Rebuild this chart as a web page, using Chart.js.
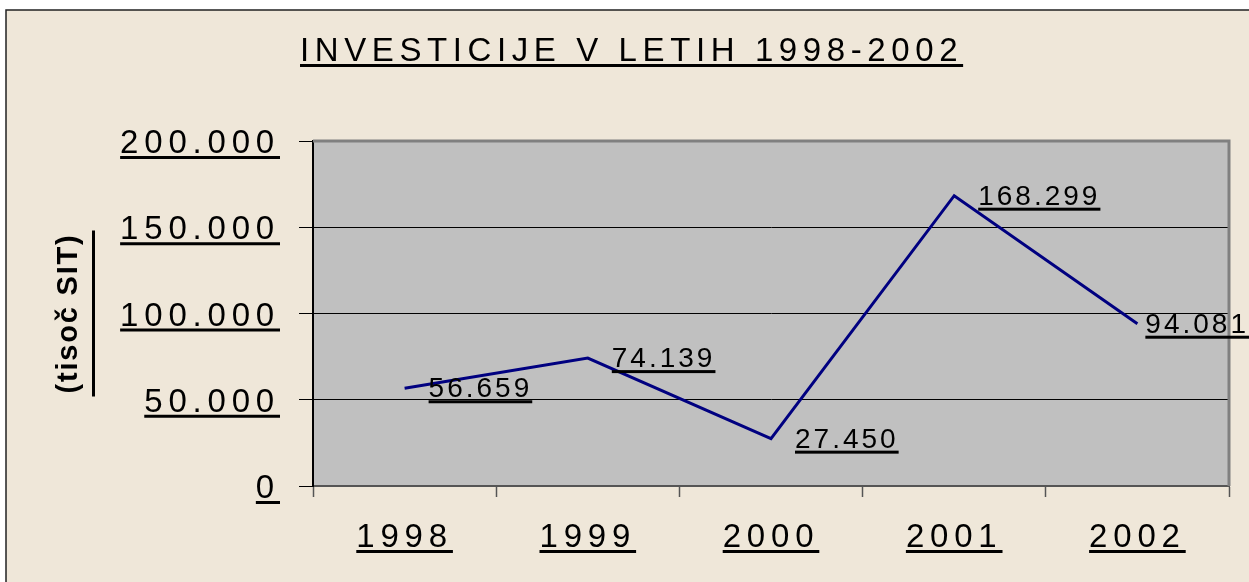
<!DOCTYPE html>
<html>
<head>
<meta charset="utf-8">
<script src="https://cdn.jsdelivr.net/npm/chart.js@4.4.1/dist/chart.umd.min.js"></script>
<style>
  html, body { margin: 0; padding: 0; background: #ffffff; }
  #wrap { width: 1249px; height: 582px; }
</style>
</head>
<body>
<div id="wrap"><canvas id="lineChart" width="1249" height="582"></canvas></div>
<script>
// data
const years = ['1998', '1999', '2000', '2001', '2002'];
const investments = [56659, 74139, 27450, 168299, 94081];
const yTickValues = [0, 50000, 100000, 150000, 200000];
const chartTitle = 'INVESTICIJE V LETIH 1998-2002';
const axisTitle = '(tisoč SIT)';

const FONT = '"Liberation Sans", Arial, sans-serif';
const fmt = v => v.toLocaleString('de-DE');

// draws text with an underline the width of the text (incl. letter spacing)
function underlined(ctx, text, x, y, align, spacing, gap, thick) {
  ctx.letterSpacing = spacing + 'px';
  const w = ctx.measureText(text).width;
  let left = x;
  if (align === 'center') left = x - w / 2;
  if (align === 'right') left = x - w;
  ctx.textAlign = 'left';
  ctx.textBaseline = 'alphabetic';
  ctx.fillText(text, left, y);
  ctx.fillRect(left, y + gap, w, thick);
  return w;
}

const decorPlugin = {
  id: 'decor',
  beforeDraw(chart) {
    const ctx = chart.ctx;
    const a = chart.chartArea;
    ctx.save();
    ctx.fillStyle = '#ffffff';
    ctx.fillRect(0, 0, chart.width, chart.height);
    ctx.fillStyle = '#efe7d9';
    ctx.fillRect(6, 10, chart.width, chart.height);
    ctx.strokeStyle = '#222222';
    ctx.lineWidth = 1.5;
    ctx.beginPath();
    ctx.moveTo(6, chart.height + 5);
    ctx.lineTo(6, 10);
    ctx.lineTo(chart.width + 5, 10);
    ctx.stroke();
    ctx.fillStyle = '#c0c0c0';
    ctx.fillRect(a.left, a.top, a.right - a.left, a.bottom - a.top);
    ctx.restore();
  },
  afterDraw(chart) {
    const ctx = chart.ctx;
    const a = chart.chartArea;
    const xs = chart.scales.x;
    const ys = chart.scales.y;
    ctx.save();

    // plot frame top / right
    ctx.strokeStyle = '#808080';
    ctx.lineWidth = 3;
    ctx.beginPath();
    ctx.moveTo(a.left, a.top);
    ctx.lineTo(a.right, a.top);
    ctx.lineTo(a.right, a.bottom);
    ctx.stroke();

    ctx.fillStyle = '#000000';

    // title
    ctx.font = '33px ' + FONT;
    underlined(ctx, chartTitle, 300, 61, 'left', 5.6, 3, 3);

    // y tick labels
    ctx.font = '33px ' + FONT;
    ys.ticks.forEach(t => {
      const y = ys.getPixelForValue(t.value);
      underlined(ctx, fmt(t.value), 280, y + 12, 'right', 5.8, 3, 3);
    });

    // x tick labels
    years.forEach((lab, i) => {
      const x = xs.getPixelForTick(i);
      underlined(ctx, lab, x, 547, 'center', 5.8, 3, 3);
    });

    // data labels
    ctx.font = '28px ' + FONT;
    const meta = chart.getDatasetMeta(0);
    meta.data.forEach((pt, i) => {
      const txt = fmt(investments[i]);
      ctx.letterSpacing = '3px';
      const w = ctx.measureText(txt).width;
      let left = pt.x + 24;
      if (left + w > chart.width) left = chart.width - w;
      underlined(ctx, txt, left, pt.y + 9, 'left', 3, 3, 3);
    });

    // axis title (rotated)
    ctx.translate(77, (a.top + a.bottom) / 2);
    ctx.rotate(-Math.PI / 2);
    ctx.font = 'bold 29px ' + FONT;
    ctx.letterSpacing = '1.8px';
    ctx.textAlign = 'center';
    ctx.fillText(axisTitle, 0, 0);
    ctx.fillRect(-83, 15, 166, 3);

    ctx.restore();
  }
};

new Chart(document.getElementById('lineChart'), {
  type: 'line',
  data: {
    labels: years,
    datasets: [{
      data: investments,
      borderColor: '#000080',
      borderWidth: 3,
      pointRadius: 0,
      tension: 0,
      fill: false
    }]
  },
  options: {
    responsive: false,
    animation: false,
    events: [],
    layout: { padding: { top: 141, right: 20, left: 0, bottom: 0 } },
    plugins: { legend: { display: false }, tooltip: { enabled: false }, title: { display: false } },
    scales: {
      x: {
        type: 'category',
        offset: true,
        afterFit: s => { s.height = 96; },
        grid: { offset: true, drawOnChartArea: false, tickLength: 11, tickColor: '#555555', tickWidth: 1.5 },
        border: { color: '#555555', width: 2 },
        ticks: { display: false }
      },
      y: {
        min: 0,
        max: 200000,
        afterBuildTicks: s => { s.ticks = yTickValues.map(v => ({ value: v })); },
        afterFit: s => { s.width = 313; },
        grid: {
          color: c => (c.tick && (c.tick.value === 200000 || c.tick.value === 0)) ? 'rgba(0,0,0,0)' : '#000000',
          lineWidth: 1,
          tickLength: 14,
          tickColor: '#000000'
        },
        border: { color: '#000000', width: 2 },
        ticks: { display: false }
      }
    }
  },
  plugins: [decorPlugin]
});
</script>
</body>
</html>
